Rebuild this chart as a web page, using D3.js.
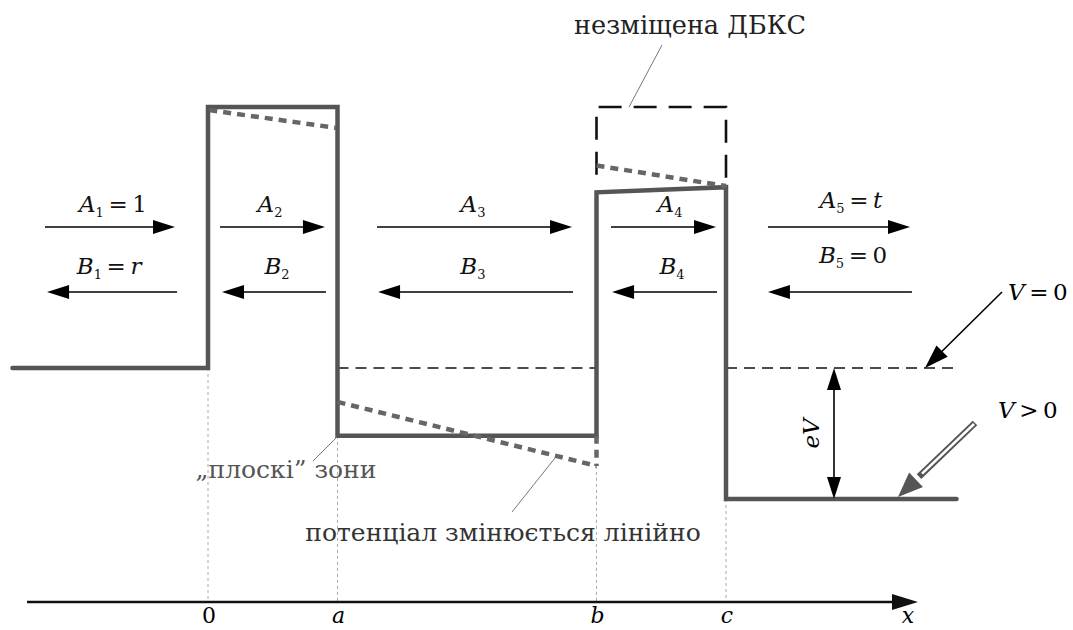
<!DOCTYPE html>
<html><head><meta charset="utf-8">
<script src="https://cdn.jsdelivr.net/npm/d3@7"></script>
<style>body{margin:0;background:#fff}svg{display:block}text{font-family:"DejaVu Serif",serif}</style>
</head><body>
<script>
// ---- data (x in structure units: 0, a=1, b=3, c=4; U in units of barrier height) ----
const tickLabels = ["0","a","b","c"];
const tickValues = [0,1,3,4];
const profileX = [-1.51,0,0,1,1,3,3,4,4,5.78];
const profileU = [0,0,1,1,-0.26,-0.26,0.673,0.693,-0.502,-0.502];
const biasedSegX = [[0.01,0.99],[1,3],[3,4],[3,3]];
const biasedSegU = [[0.988,0.92],[-0.13,-0.375],[0.776,0.697],[-0.26,-0.375]];
const boxX = [3,3,4,4];
const boxU = [0.74,1,1,0.69];
const zeroLevelSegX = [[1,3],[4,5.78]];
const guideX = [0,1,3,4];
const guideTopU = [0,-0.26,-0.375,-0.502];
const waveNames = ["A","B"];
const waveIdx = ["1","2","3","4","5"];
const waveSuffixA = ["1","","","","t"];
const waveSuffixB = ["r","","","","0"];
const arrowAX = [[-1.259,-0.255],[0.093,0.903],[1.305,2.811],[3.112,3.923],[4.324,5.421]];
const arrowBX = [[-0.239,-1.243],[0.911,0.108],[2.819,1.313],[3.931,3.120],[5.436,4.324]];
const arrowAU = 0.540, arrowBU = 0.291;
const labelAX = [-0.734,0.479,2.046,3.568,4.965];
const labelBX = [-0.764,0.533,2.046,3.583,4.981];
const labelAU = [0.598,0.598,0.598,0.598,0.613];
const labelBU = [0.360,0.360,0.360,0.360,0.402];
const eVx = 4.834;

const W=1073,H=630;
const x = d3.scaleLinear().domain([0,4]).range([208,726]);
const y = d3.scaleLinear().domain([0,1]).range([368,107]);
const axisY = 602;

const svg = d3.select("body").append("svg").attr("width",W).attr("height",H);

function arrowHead(g,x1,y1,x2,y2,len,hw,fill){
  const a=Math.atan2(y2-y1,x2-x1), c=Math.cos(a), s=Math.sin(a);
  const bx=x2-len*c, by=y2-len*s;
  g.append("path").attr("d",`M${x2},${y2}L${bx-hw*s},${by+hw*c}L${bx+hw*s},${by-hw*c}Z`).attr("fill",fill);
  return [bx,by];
}
function arrow(g,x1,y1,x2,y2,opt={}){
  const len=opt.len||22,hw=opt.hw||7,col=opt.color||"#000",w=opt.w||1.6;
  const [bx,by]=arrowHead(g,x1,y1,x2,y2,len,hw,col);
  g.append("line").attr("x1",x1).attr("y1",y1).attr("x2",bx+(x2-bx)*0.3).attr("y2",by+(y2-by)*0.3).attr("stroke",col).attr("stroke-width",w);
}

// guide lines
const guides = svg.append("g");
guideX.forEach((gx,i)=>{
  guides.append("line").attr("x1",x(gx)).attr("x2",x(gx)).attr("y1",y(guideTopU[i])).attr("y2",axisY)
   .attr("stroke","#aaa").attr("stroke-width",1).attr("stroke-dasharray","3,3");
});

// V=0 level dashed
zeroLevelSegX.forEach(s=>{
  svg.append("line").attr("x1",x(s[0])).attr("x2",x(s[1])).attr("y1",y(0)).attr("y2",y(0))
   .attr("stroke","#111").attr("stroke-width",1.3).attr("stroke-dasharray","11,7");
});

// undisplaced box
svg.append("path").attr("d",d3.line()(boxX.map((v,i)=>[x(v),y(boxU[i])])))
  .attr("fill","none").attr("stroke","#111").attr("stroke-width",2.6).attr("stroke-dasharray","23,12");

// profile
svg.append("path").attr("d",d3.line()(profileX.map((v,i)=>[x(v),y(profileU[i])])))
  .attr("fill","none").attr("stroke","#555").attr("stroke-width",4.5).attr("stroke-linejoin","miter").attr("stroke-linecap","round");

// biased dotted
biasedSegX.forEach((s,i)=>{
  svg.append("line").attr("x1",x(s[0])).attr("x2",x(s[1])).attr("y1",y(biasedSegU[i][0])).attr("y2",y(biasedSegU[i][1]))
   .attr("stroke","#666").attr("stroke-width",4.5).attr("stroke-dasharray","8,6");
});

// wave arrows and labels
const ga = svg.append("g");
function waveLabel(cx,by,name,idx,suffix){
  const t = ga.append("text").attr("x",cx).attr("y",by).attr("text-anchor","middle").attr("font-size",23).attr("fill","#111");
  t.append("tspan").attr("font-style","italic").text(name);
  t.append("tspan").attr("font-size",13).attr("dy",5).text(idx);
  if(suffix){
    t.append("tspan").attr("dy",-5).text("\u2009=\u2009");
    t.append("tspan").attr("font-style", /[a-z]/.test(suffix)?"italic":"normal").text(suffix);
  }
}
arrowAX.forEach((s,i)=>{
  arrow(ga,x(s[0]),y(arrowAU),x(s[1]),y(arrowAU));
  waveLabel(x(labelAX[i]),y(labelAU[i]),waveNames[0],waveIdx[i],waveSuffixA[i]);
});
arrowBX.forEach((s,i)=>{
  arrow(ga,x(s[0]),y(arrowBU),x(s[1]),y(arrowBU));
  waveLabel(x(labelBX[i]),y(labelBU[i]),waveNames[1],waveIdx[i],waveSuffixB[i]);
});

// eV double arrow
const ev = svg.append("g");
arrowHead(ev,x(eVx),y(-0.502),x(eVx),y(0),22,7,"#000");
arrowHead(ev,x(eVx),y(0),x(eVx),y(-0.502),22,7,"#000");
ev.append("line").attr("x1",x(eVx)).attr("x2",x(eVx)).attr("y1",y(0)+15).attr("y2",y(-0.502)-15).attr("stroke","#000").attr("stroke-width",1.6);
ev.append("text").attr("transform",`translate(${x(eVx)-15},${(y(0)+y(-0.502))/2}) rotate(-90)`)
  .attr("text-anchor","middle").attr("font-size",23).attr("font-style","italic").text("eV");

// V=0 pointer
arrow(svg,1002,292,925,368,{len:24,hw:8});
const v0 = svg.append("text").attr("x",1008).attr("y",300).attr("font-size",23);
v0.append("tspan").attr("font-style","italic").text("V");
v0.append("tspan").text("\u2009=\u20090");

// V>0 hollow pointer
const vp = svg.append("g");
const [hbx,hby] = arrowHead(vp,975,423,898,497,25,10,"#555");
vp.append("line").attr("x1",975).attr("y1",423).attr("x2",hbx+3).attr("y2",hby-3).attr("stroke","#555").attr("stroke-width",6.5);
vp.append("line").attr("x1",974).attr("y1",424).attr("x2",hbx+6).attr("y2",hby-6).attr("stroke","#fff").attr("stroke-width",2.6);
const vg = svg.append("text").attr("x",998).attr("y",418).attr("font-size",23);
vg.append("tspan").attr("font-style","italic").text("V");
vg.append("tspan").text("\u2009>\u20090");

// annotations
svg.append("line").attr("x1",662).attr("y1",45).attr("x2",629).attr("y2",107).attr("stroke","#777").attr("stroke-width",1);
svg.append("text").attr("x",690).attr("y",34).attr("text-anchor","middle").attr("font-size",25.5).attr("fill","#222").text("незміщена ДБКС");

svg.append("line").attr("x1",337).attr("y1",437).attr("x2",313).attr("y2",461).attr("stroke","#777").attr("stroke-width",1);
svg.append("text").attr("x",286).attr("y",478).attr("text-anchor","middle").attr("font-size",25).attr("fill","#555").text("„плоскі” зони");

svg.append("line").attr("x1",512).attr("y1",512).attr("x2",555).attr("y2",458).attr("stroke","#777").attr("stroke-width",1);
svg.append("text").attr("x",503).attr("y",541).attr("text-anchor","middle").attr("font-size",25).attr("fill","#333").text("потенціал змінюється лінійно");

// x axis
const ax = svg.append("g");
arrowHead(ax,27,axisY,918,axisY,26,8,"#111");
ax.append("line").attr("x1",27).attr("x2",900).attr("y1",axisY).attr("y2",axisY).attr("stroke","#111").attr("stroke-width",2.6);
tickValues.forEach((v,i)=>{
  ax.append("text").attr("x",x(v)+1).attr("y",623).attr("text-anchor","middle").attr("font-size",22)
    .attr("font-style", i===0?"normal":"italic").text(tickLabels[i]);
});
ax.append("text").attr("x",908).attr("y",623).attr("text-anchor","middle").attr("font-size",22).attr("font-style","italic").text("x");
</script>
</body></html>
